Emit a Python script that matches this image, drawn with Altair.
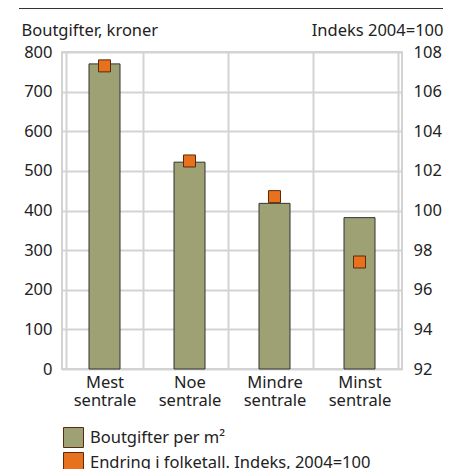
import altair as alt
import pandas as pd

categories = ["Mest sentrale", "Noe sentrale", "Mindre sentrale", "Minst sentrale"]
boutgifter = [770, 522, 418, 382]
indeks = [107.3, 102.5, 100.7, 97.4]
series = ["Boutgifter per m²", "Endring i folketall. Indeks, 2004=100"]

df = pd.DataFrame({"kat": categories, "bout": boutgifter, "idx": indeks,
                   "s1": series[0], "s2": series[1]})

FONT = "Noto Sans"
FS = 16.5
color_scale = alt.Scale(domain=series, range=["#9ea174", "#e8711e"])
x = alt.X("kat:N", sort=categories, title=None,
          axis=alt.Axis(labelExpr="split(datum.label, ' ')", labelAngle=0,
                        tickBand="extent", grid=True, gridColor="#d3d3d3", gridWidth=2,
                        domain=False, ticks=False, labelPadding=5, labelFontSize=FS,
                        labelColor="#222", labelFont=FONT, labelLineHeight=18))

bars = alt.Chart(df).mark_bar(size=31, stroke="#333", strokeWidth=1).encode(
    x=x,
    y=alt.Y("bout:Q", scale=alt.Scale(domain=[0, 800]),
            axis=alt.Axis(values=list(range(0, 801, 100)), grid=True, gridColor="#d3d3d3",
                          gridWidth=2, domain=False, ticks=False, labelPadding=10,
                          labelFontSize=FS, labelColor="#222", labelFont=FONT,
                          title="Boutgifter, kroner", titleAngle=0, titleX=-41, titleY=-22,
                          titleAlign="left", titleBaseline="middle", titleFontSize=FS,
                          titleFontWeight="normal", titleColor="#222", titleFont=FONT)),
    color=alt.Color("s1:N", scale=color_scale,
                    legend=alt.Legend(title=None, orient="none", legendX=1, legendY=375,
                                      symbolType="square", symbolSize=400,
                                      symbolStrokeColor="#333", symbolStrokeWidth=1,
                                      labelFontSize=FS, labelFont=FONT, labelColor="#222",
                                      labelLimit=0, rowPadding=0, labelOffset=6)),
)

points = alt.Chart(df).mark_point(shape="square", filled=True, size=144,
                                  stroke="#5a2a0a", strokeWidth=1, opacity=1).encode(
    x=x,
    y=alt.Y("idx:Q", scale=alt.Scale(domain=[92, 108]),
            axis=alt.Axis(orient="right", values=list(range(92, 109, 2)), grid=False,
                          domain=False, ticks=False, labelPadding=11, labelFontSize=FS,
                          labelColor="#222", labelFont=FONT,
                          title="Indeks 2004=100", titleAngle=0, titleX=41, titleY=-22,
                          titleAlign="right", titleBaseline="middle", titleFontSize=FS,
                          titleFontWeight="normal", titleColor="#222", titleFont=FONT)),
    color=alt.Color("s2:N", scale=color_scale),
)

topline = alt.Chart(df).mark_rule(color="#333", strokeWidth=1).encode(
    x=alt.value(-43), x2=alt.value(381), y=alt.value(-43.5))

chart = alt.layer(bars, points, topline).resolve_scale(y="independent").properties(
    width=340, height=317,
    autosize=alt.AutoSizeParams(type="none"),
    padding={"left": 54, "top": 44, "right": 45, "bottom": 100},
).configure_view(stroke="#d3d3d3", strokeWidth=2)

chart.save("out.html", embed_options={"renderer": "svg", "actions": False})
